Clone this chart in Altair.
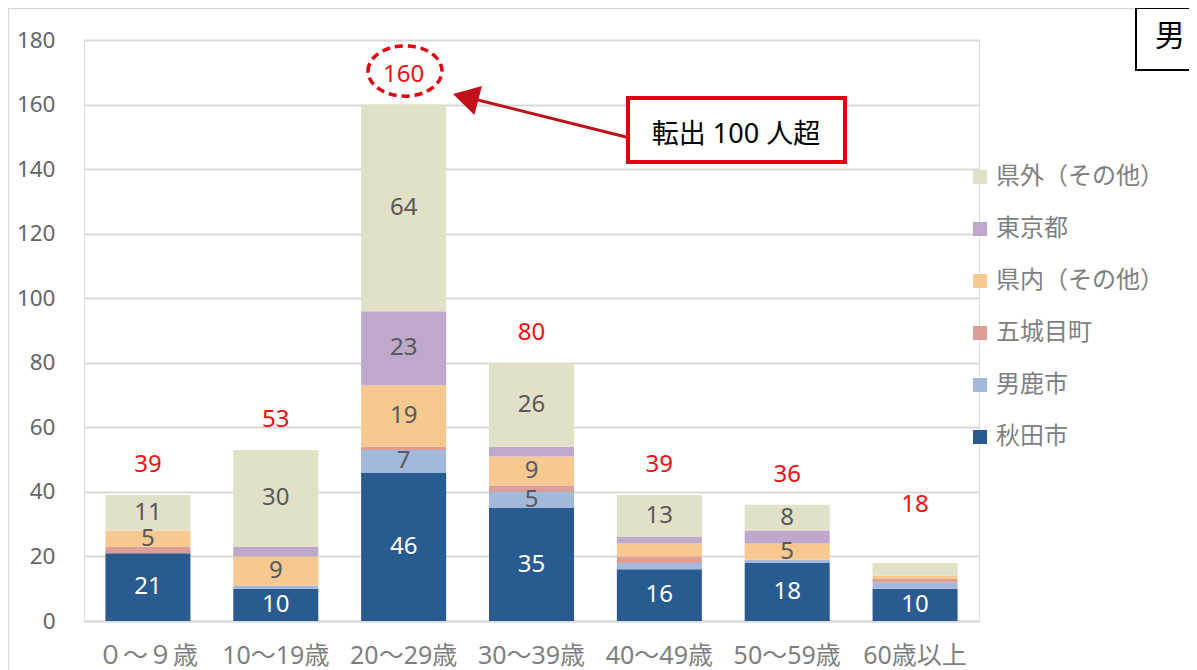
import altair as alt
import pandas as pd

categories = ["０～９歳", "10～19歳", "20～29歳", "30～39歳", "40～49歳", "50～59歳", "60歳以上"]
series = ["秋田市", "男鹿市", "五城目町", "県内（その他）", "東京都", "県外（その他）"]
akita = [21, 10, 46, 35, 16, 18, 10]
oga = [0, 1, 7, 5, 2, 1, 2]
gojome = [2, 0, 1, 2, 2, 0, 1]
kennai = [5, 9, 19, 9, 4, 5, 1]
tokyo = [0, 3, 23, 3, 2, 4, 0]
kengai = [11, 30, 64, 26, 13, 8, 4]
totals = [39, 53, 160, 80, 39, 36, 18]
colors = ["#2A5B90", "#A3B9DB", "#DE9E98", "#F8C891", "#BEA9CC", "#E2E1C8"]
y_ticks = [0, 20, 40, 60, 80, 100, 120, 140, 160, 180]

FONT = "Noto Sans CJK JP"
NUMFONT = "Noto Sans, Noto Sans CJK JP"
values_by_series = [akita, oga, gojome, kennai, tokyo, kengai]
rows = []
for idx, (name, vals) in enumerate(zip(series, values_by_series)):
    for cat, v in zip(categories, vals):
        rows.append({"cat": cat, "series": name, "idx": idx, "v": v})
df = pd.DataFrame(rows)
df_tot = pd.DataFrame({"cat": categories, "total": totals})
one = pd.DataFrame({"a": [0]})

xenc = alt.X("cat:N", sort=categories,
             scale=alt.Scale(domain=categories, paddingInner=0.335, paddingOuter=0.1675),
             axis=alt.Axis(title=None, labelAngle=0, labelFontSize=25, labelColor="#7F7F7F",
                           labelFont=NUMFONT, labelPadding=22, ticks=False, domain=True,
                           domainColor="#D9D9D9", domainWidth=2, labelLimit=0))
yscale = alt.Scale(domain=[0, 180], nice=False)

bars = alt.Chart(df).mark_bar().encode(
    x=xenc,
    y=alt.Y("v:Q", stack="zero", scale=yscale,
            axis=alt.Axis(values=y_ticks, title=None, domain=False, ticks=False,
                          labelFontSize=22.5, labelColor="#666666", labelFont=NUMFONT,
                          labelPadding=29, gridColor="#D9D9D9", gridWidth=2)),
    color=alt.Color("series:N",
                    scale=alt.Scale(domain=series[::-1], range=colors[::-1]),
                    legend=alt.Legend(title=None, orient="none", legendX=884, legendY=125,
                                      symbolType="square", symbolSize=196,
                                      symbolStrokeWidth=0, labelFontSize=24,
                                      labelColor="#808080", labelFont=FONT,
                                      rowPadding=28, labelOffset=4, padding=0,
                                      labelLimit=0)),
    order=alt.Order("idx:Q", sort="ascending"),
)

seg_labels = alt.Chart(df).transform_stack(
    stack="v", groupby=["cat"], as_=["v0", "v1"],
    sort=[alt.SortField("idx", order="ascending")]
).transform_filter("datum.v >= 5").transform_calculate(
    mid="(datum.v0 + datum.v1) / 2"
).mark_text(fontSize=24, font=NUMFONT, baseline="middle").encode(
    x=alt.X("cat:N", sort=categories),
    y=alt.Y("mid:Q", scale=yscale),
    text="v:Q",
    color=alt.condition("datum.idx == 0", alt.value("white"), alt.value("#595959")),
)

tot_labels = alt.Chart(df_tot).transform_calculate(
    ty="datum.total + (datum.cat == '60歳以上' ? 8.5 : 0)"
).mark_text(fontSize=24, font=NUMFONT, color="#F01010", dy=-30, baseline="middle").encode(
    x=alt.X("cat:N", sort=categories),
    y=alt.Y("ty:Q", scale=yscale),
    text="total:Q",
)

RED = "#E00010"
DARKRED = "#C0101A"
ellipse = alt.Chart(one).mark_point(
    shape="M-1,0A1,0.68,0,1,1,1,0A1,0.68,0,1,1,-1,0Z", size=5476, filled=False,
    stroke=RED, strokeWidth=3.5, strokeDash=[8, 5], opacity=1
).encode(x=alt.value(321), y=alt.value(31))

arrow_line = alt.Chart(one).mark_rule(color=DARKRED, strokeWidth=3).encode(
    x=alt.value(546), y=alt.value(98), x2=alt.value(386), y2=alt.value(58))
arrow_head = alt.Chart(one).mark_point(
    shape="triangle-left", size=900, filled=True, color=DARKRED, opacity=1, angle=14.6
).encode(x=alt.value(381.6), y=alt.value(57.3))

box = alt.Chart(one).mark_rect(fill="white", stroke=RED, strokeWidth=4).encode(
    x=alt.value(544), x2=alt.value(761), y=alt.value(58), y2=alt.value(122))
box_text = alt.Chart(one).mark_text(text="転出 100 人超", fontSize=27, font=NUMFONT,
                                    color="black", baseline="middle").encode(
    x=alt.value(652), y=alt.value(95))

sex_box = alt.Chart(one).mark_rect(fill="white", stroke="black", strokeWidth=2).encode(
    x=alt.value(1052), x2=alt.value(1300), y=alt.value(-32), y2=alt.value(30))
sex_text = alt.Chart(one).mark_text(text="男", fontSize=30, font=FONT, color="black",
                                    baseline="middle").encode(
    x=alt.value(1086), y=alt.value(-3))

frame = alt.Chart(one).mark_rect(fill=None, stroke="#D9D9D9", strokeWidth=1.5).encode(
    x=alt.value(-75.5), x2=alt.value(1400), y=alt.value(-31.5), y2=alt.value(800))

chart = alt.layer(
    frame, bars, seg_labels, tot_labels, ellipse, arrow_line, arrow_head, box, box_text,
    sex_box, sex_text
).properties(
    width=895, height=581,
    padding={"left": 76, "top": 32, "right": 210, "bottom": 49},
    autosize=alt.AutoSizeParams(type="none"),
).configure_view(stroke=None).configure(font=FONT)

chart.save("out.html", embed_options={"renderer": "svg", "actions": False})
